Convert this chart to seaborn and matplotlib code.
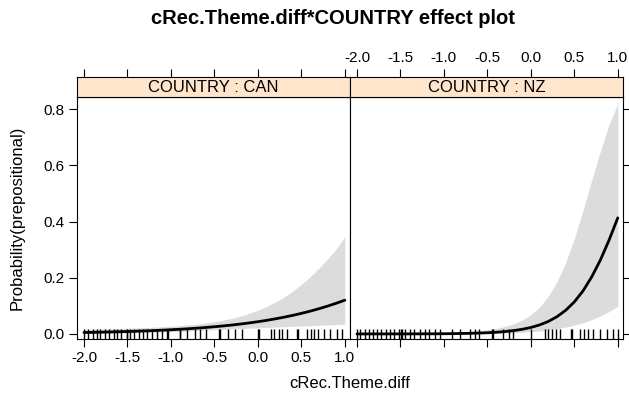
import numpy as np
import pandas as pd
import matplotlib
matplotlib.use("Agg")
import matplotlib.pyplot as plt
import seaborn as sns

sns.set_style("white")
plt.rcParams['font.family'] = ['Liberation Sans', 'DejaVu Sans']
plt.rcParams['axes.unicode_minus'] = False
plt.rcParams['text.color'] = 'black'
plt.rcParams['axes.labelcolor'] = 'black'
plt.rcParams['xtick.color'] = 'black'
plt.rcParams['ytick.color'] = 'black'

# ---------------- data ----------------
x_grid = [-2.0, -1.9, -1.8, -1.7, -1.6, -1.5, -1.4, -1.3, -1.2, -1.1,
          -1.0, -0.9, -0.8, -0.7, -0.6, -0.5, -0.4, -0.3, -0.2, -0.1,
          0.0, 0.1, 0.2, 0.3, 0.4, 0.5, 0.6, 0.7, 0.8, 0.9, 1.0]

can_fit = [0.0050, 0.0056, 0.0062, 0.0070, 0.0078, 0.0087, 0.0097, 0.0108,
           0.0120, 0.0134, 0.0149, 0.0166, 0.0185, 0.0206, 0.0230, 0.0256,
           0.0285, 0.0317, 0.0352, 0.0392, 0.0435, 0.0483, 0.0537, 0.0595,
           0.0660, 0.0731, 0.0809, 0.0895, 0.0988, 0.1090, 0.1200]
can_lower = [0.0015, 0.0018, 0.0022, 0.0026, 0.0031, 0.0036, 0.0043, 0.0051,
             0.0060, 0.0070, 0.0081, 0.0093, 0.0107, 0.0121, 0.0135, 0.0150,
             0.0164, 0.0179, 0.0193, 0.0206, 0.0220, 0.0233, 0.0245, 0.0258,
             0.0270, 0.0283, 0.0296, 0.0309, 0.0322, 0.0334, 0.0348]
can_upper = [0.0164, 0.0171, 0.0178, 0.0186, 0.0195, 0.0205, 0.0215, 0.0227,
             0.0240, 0.0256, 0.0274, 0.0294, 0.0320, 0.0350, 0.0388, 0.0433,
             0.0489, 0.0555, 0.0635, 0.0731, 0.0844, 0.0978, 0.1130, 0.1310,
             0.1520, 0.1760, 0.2030, 0.2330, 0.2660, 0.3020, 0.3450]

nz_fit = [0.00003, 0.00004, 0.00005, 0.00007, 0.0001, 0.00014, 0.0002, 0.00028,
          0.0004, 0.00056, 0.0008, 0.0011, 0.0016, 0.0022, 0.0031, 0.0043,
          0.0060, 0.0084, 0.0118, 0.0165, 0.0230, 0.0320, 0.0443, 0.0612,
          0.0839, 0.1140, 0.1530, 0.2030, 0.2630, 0.3340, 0.4130]
nz_lower = [0.000002, 0.000003, 0.000004, 0.000006, 0.00001, 0.000016, 0.00002,
            0.00004, 0.00006, 0.00009, 0.00015, 0.00023, 0.00035, 0.00054,
            0.0008, 0.0012, 0.0018, 0.0027, 0.0038, 0.0054, 0.0075, 0.0103,
            0.0138, 0.0183, 0.0241, 0.0314, 0.0399, 0.0507, 0.0642, 0.0794, 0.0988]
nz_upper = [0.0004, 0.00055, 0.0007, 0.00085, 0.0011, 0.0013, 0.0017, 0.0021,
            0.0026, 0.0033, 0.0042, 0.0053, 0.0068, 0.0087, 0.0113, 0.0149,
            0.0198, 0.0263, 0.0359, 0.0493, 0.0685, 0.0953, 0.1340, 0.1854,
            0.2540, 0.3390, 0.4400, 0.5470, 0.6500, 0.7450, 0.8190]

can_rug = [-2.00, -1.95, -1.90, -1.85, -1.81, -1.76, -1.71, -1.66, -1.62,
           -1.57, -1.51, -1.50, -1.47, -1.42, -1.37, -1.32, -1.27, -1.22,
           -1.16, -1.10, -1.04, -1.03, -0.90, -0.89, -0.81, -0.72, -0.67,
           -0.60, -0.45, -0.44, -0.34, -0.26, -0.18, 0.00, 0.01, 0.15, 0.19,
           0.24, 0.28, 0.34, 0.45, 0.46, 0.57, 0.61, 0.65, 0.69, 0.76, 0.83,
           0.91, 0.97]
nz_rug = [-2.00, -1.96, -1.91, -1.86, -1.81, -1.77, -1.72, -1.67, -1.62,
          -1.57, -1.52, -1.49, -1.48, -1.45, -1.39, -1.34, -1.27, -1.22,
          -1.17, -1.10, -1.04, -0.91, -0.81, -0.70, -0.64, -0.60, -0.45,
          -0.44, -0.32, -0.25, -0.20, 0.00, 0.16, 0.20, 0.24, 0.29, 0.34,
          0.46, 0.47, 0.57, 0.61, 0.66, 0.72, 0.80, 0.88, 0.94, 1.00]

countries = ["CAN", "NZ"]
x_ticks = [-2.0, -1.5, -1.0, -0.5, 0.0, 0.5, 1.0]
x_tick_labels = ["-2.0", "-1.5", "-1.0", "-0.5", "0.0", "0.5", "1.0"]
y_ticks = [0.0, 0.2, 0.4, 0.6, 0.8]
y_tick_labels = ["0.0", "0.2", "0.4", "0.6", "0.8"]

fits = {"CAN": can_fit, "NZ": nz_fit}
lowers = {"CAN": can_lower, "NZ": nz_lower}
uppers = {"CAN": can_upper, "NZ": nz_upper}
rugs = {"CAN": can_rug, "NZ": nz_rug}

# ---------------- figure ----------------
W, H = 629, 395
fig = plt.figure(figsize=(W / 100, H / 100), dpi=100)

panel_left = [77, 350]
panel_w = 273
panel_top, panel_bot = 97, 339
strip_top = 77
xlim = (-2.08, 1.06)
ylim = (-0.018, 0.843)

for i, c in enumerate(countries):
    left = panel_left[i] / W
    ax = fig.add_axes([left, 1 - panel_bot / H, panel_w / W, (panel_bot - panel_top) / H])
    df = pd.DataFrame({"x": x_grid, "fit": fits[c], "lo": lowers[c], "hi": uppers[c]})
    ax.fill_between(df["x"], df["lo"], df["hi"], color="#DCDCDC", lw=0, zorder=1)
    sns.lineplot(data=df, x="x", y="fit", ax=ax, color="black", lw=2, zorder=3)
    sns.rugplot(x=rugs[c], ax=ax, height=0.04, color="black", lw=1,
                expand_margins=False, zorder=4)
    ax.set_xlim(*xlim)
    ax.set_ylim(*ylim)
    ax.set_xlabel("")
    ax.set_ylabel("")
    for sp in ax.spines.values():
        sp.set_color("black")
        sp.set_linewidth(0.8)
    ax.set_xticks(x_ticks)
    ax.set_yticks(y_ticks)
    ax.tick_params(direction="out", length=6, width=0.8, colors="black",
                   labelsize=11, pad=3)
    if i == 0:
        ax.set_xticklabels(x_tick_labels)
        ax.set_yticklabels(y_tick_labels)
        ax.tick_params(axis="x", bottom=True, labelbottom=True)
        ax.tick_params(axis="y", left=True, labelleft=True, right=False)
    else:
        ax.set_xticklabels([])
        ax.tick_params(axis="x", bottom=True, labelbottom=False)
        ax.tick_params(axis="y", left=False, labelleft=False, right=True, labelright=False)

    # strip
    sax = fig.add_axes([left, 1 - panel_top / H, panel_w / W, (panel_top - strip_top) / H])
    sax.set_facecolor("#FFE5CC")
    sax.set_xlim(*xlim)
    sax.set_yticks([])
    for sp in sax.spines.values():
        sp.set_color("black")
        sp.set_linewidth(0.8)
    sax.set_xticks(x_ticks)
    sax.tick_params(axis="x", direction="out", length=6, width=0.8, colors="black",
                    top=True, bottom=False, labelbottom=False, labelsize=11, pad=3)
    if i == 1:
        sax.set_xticklabels(x_tick_labels)
        sax.tick_params(axis="x", labeltop=True)
    else:
        sax.tick_params(axis="x", labeltop=False)
    sax.text(0.5, 0.5, f"COUNTRY : {c}", transform=sax.transAxes,
             ha="center", va="center", fontsize=12, color="black")

cx = (panel_left[0] + panel_left[1] + panel_w) / 2 / W
fig.text(333 / W, 1 - 19 / H, "cRec.Theme.diff*COUNTRY effect plot",
         ha="center", va="center", fontsize=14.5, fontweight="bold", color="black")
fig.text(cx, 1 - 383 / H, "cRec.Theme.diff", ha="center", va="center",
         fontsize=12, color="black")
fig.text(17 / W, 1 - 218 / H, "Probability(prepositional)", ha="center",
         va="center", rotation=90, fontsize=12, color="black")

fig.savefig("out.png", dpi=100)
